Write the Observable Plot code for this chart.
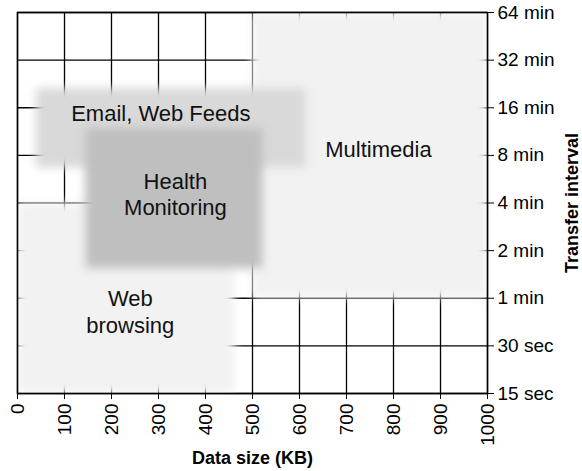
<!DOCTYPE html>
<html>
<head>
<meta charset="utf-8">
<script src="https://cdn.jsdelivr.net/npm/d3@7"></script>
<script src="https://cdn.jsdelivr.net/npm/@observablehq/plot@0.6"></script>
<style>
  html, body { margin: 0; padding: 0; background: #fff; }
</style>
</head>
<body>
<div id="chart"></div>
<script>
// ---- data ----
const xTicks = [0, 100, 200, 300, 400, 500, 600, 700, 800, 900, 1000];
const yTicks = [15, 30, 60, 120, 240, 480, 960, 1920, 3840]; // seconds
const yTickLabels = ["15 sec", "30 sec", "1 min", "2 min", "4 min", "8 min", "16 min", "32 min", "64 min"];

const regionNames = ["Web browsing", "Multimedia", "Email, Web Feeds", "Health Monitoring"];
const regionX1 = [0, 500, 40, 145];     // KB
const regionX2 = [462, 1000, 615, 523]; // KB
const regionY1 = [15, 60, 400, 92];     // seconds
const regionY2 = [240, 3840, 1270, 708];// seconds

const labelText = ["Web\nbrowsing", "Multimedia", "Email, Web Feeds", "Health\nMonitoring"];
const labelX = [240, 768, 305, 336];
const labelY = [50, 529, 895, 276];

const regionColors = ["#f2f2f2", "#f2f2f2", "#d9d9d9", "#bfbfbf"];

// ---- build ----
const regions = regionNames.map((name, i) => ({
  name, x1: regionX1[i], x2: regionX2[i], y1: regionY1[i], y2: regionY2[i]
}));
const labels = labelText.map((t, i) => ({text: t, x: labelX[i], y: labelY[i]}));
const yLabelMap = new Map(yTicks.map((v, i) => [v, yTickLabels[i]]));

const chart = Plot.plot({
  width: 582,
  height: 471,
  marginLeft: 17,
  marginRight: 95,
  marginTop: 12,
  marginBottom: 78,
  style: {fontFamily: "'Liberation Sans', Arial, sans-serif", fontSize: "19px", color: "black", background: "white"},
  x: {
    type: "linear",
    domain: [0, 1000],
    ticks: xTicks,
    tickFormat: d => String(d),
    tickRotate: -90,
    tickSize: 6,
    tickPadding: 4,
    label: null
  },
  y: {
    type: "log",
    base: 2,
    domain: [15, 3840],
    ticks: yTicks,
    tickFormat: d => yLabelMap.get(d),
    axis: "right",
    tickSize: 6,
    tickPadding: 4,
    label: null
  },
  color: {
    domain: regionNames,
    range: regionColors
  },
  marks: [
    Plot.ruleX(xTicks, {stroke: "black", strokeWidth: 1.3}),
    Plot.ruleY(yTicks, {stroke: "black", strokeWidth: 1.3}),
    Plot.rect(regions, {x1: "x1", x2: "x2", y1: "y1", y2: "y2", fill: "name", ariaLabel: "region"}),
    Plot.frame({stroke: "black", strokeWidth: 1.5}),
    Plot.text(labels, {x: "x", y: "y", text: "text", fontSize: 22, lineHeight: 1.22, fill: "#111"}),
    Plot.text(["Data size (KB)"], {frameAnchor: "bottom", dy: 65, lineAnchor: "middle", textAnchor: "middle", fontSize: 18, fontWeight: "bold", fill: "black"}),
    Plot.text(["Transfer interval"], {frameAnchor: "right", dx: 85, rotate: -90, lineAnchor: "middle", textAnchor: "middle", fontSize: 18, fontWeight: "bold", fill: "black"})
  ]
});

// soft (blurred) region edges, clipped to the plot frame
const ns = "http://www.w3.org/2000/svg";
const defs = document.createElementNS(ns, "defs");
const filter = document.createElementNS(ns, "filter");
filter.setAttribute("id", "soft-edge");
filter.setAttribute("filterUnits", "userSpaceOnUse");
filter.setAttribute("x", "-50");
filter.setAttribute("y", "-50");
filter.setAttribute("width", "700");
filter.setAttribute("height", "600");
const blur = document.createElementNS(ns, "feGaussianBlur");
blur.setAttribute("in", "SourceGraphic");
blur.setAttribute("stdDeviation", "5");
filter.appendChild(blur);
defs.appendChild(filter);
const clip = document.createElementNS(ns, "clipPath");
clip.setAttribute("id", "frame-clip");
const cr = document.createElementNS(ns, "rect");
cr.setAttribute("x", 17); cr.setAttribute("y", 12);
cr.setAttribute("width", 582 - 17 - 95); cr.setAttribute("height", 471 - 12 - 78);
clip.appendChild(cr);
defs.appendChild(clip);
chart.insertBefore(defs, chart.firstChild);

// find the region rects (by their fill colours) and blur their group
const want = new Set(regionColors.map(c => d3.color(c).formatHex()));
const groups = new Set();
chart.querySelectorAll("rect").forEach(r => {
  const f = r.getAttribute("fill") || (r.parentNode && r.parentNode.getAttribute && r.parentNode.getAttribute("fill"));
  if (f && d3.color(f) && want.has(d3.color(f).formatHex())) groups.add(r.parentNode);
});
groups.forEach(g => {
  const wrap = document.createElementNS(ns, "g");
  wrap.setAttribute("clip-path", "url(#frame-clip)");
  g.parentNode.insertBefore(wrap, g);
  const inner = document.createElementNS(ns, "g");
  inner.setAttribute("filter", "url(#soft-edge)");
  wrap.appendChild(inner);
  inner.appendChild(g);
});

document.getElementById("chart").appendChild(chart);
</script>
</body>
</html>
